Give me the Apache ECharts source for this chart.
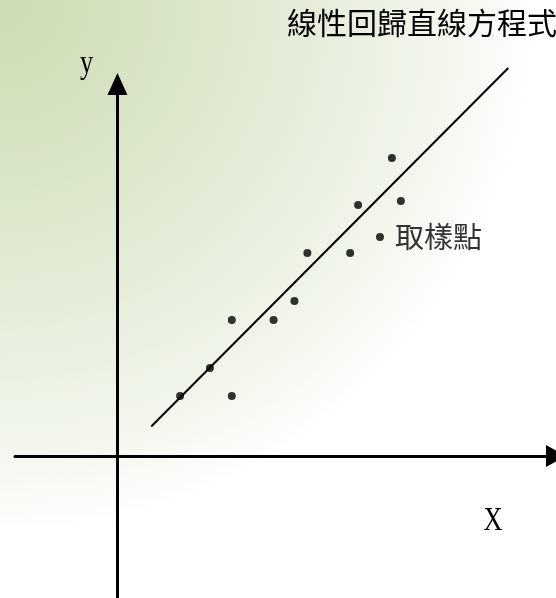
<!DOCTYPE html>
<html>
<head>
<meta charset="utf-8">
<script src="https://cdn.jsdelivr.net/npm/echarts@6/dist/echarts.min.js"></script>
<style>
  html, body { margin: 0; padding: 0; }
  #chart { width: 556px; height: 598px; }
</style>
</head>
<body>
<div id="chart"></div>
<script>
// ---- data (units: arbitrary, origin at the axes' crossing) ----
const sampleX = [27.6, 28.5, 24.2, 26.4, 19.1, 23.4, 17.8, 11.5, 15.7, 9.3, 6.3, 11.5];
const sampleY = [29.8, 25.5, 25.1, 21.9, 20.3, 20.3, 15.5, 13.6, 13.6, 8.8, 6.0, 6.0];
const labeledIndex = 3;
const sampleLabel = '取樣點';
const lineX = [3.4, 39.3];
const lineY = [2.95, 38.8];
const titleText = '線性回歸直線方程式';
const xName = 'X';
const yName = 'y';
const xRange = [-10.3, 44.1];
const yRange = [-14.2, 37.2];

const scatterData = sampleX.map((x, i) => {
  const item = { value: [x, sampleY[i]] };
  if (i === labeledIndex) {
    item.label = {
      show: true, formatter: sampleLabel, position: 'right', distance: 11,
      fontSize: 29, color: '#000', fontFamily: '"Noto Sans CJK TC", sans-serif'
    };
  }
  return item;
});
const lineData = lineX.map((x, i) => [x, lineY[i]]);

const chart = echarts.init(document.getElementById('chart'), null, { renderer: 'canvas' });
chart.setOption({
  animation: false,
  backgroundColor: {
    type: 'radial', x: 0, y: 0, r: 1.05,
    colorStops: [
      { offset: 0, color: '#cddbb2' },
      { offset: 0.3, color: '#d9e5c7' },
      { offset: 0.55, color: '#e6eedb' },
      { offset: 0.78, color: '#f3f7ee' },
      { offset: 0.92, color: '#ffffff' },
      { offset: 1, color: '#ffffff' }
    ]
  },
  title: {
    text: titleText, left: 287, top: 8, padding: 0,
    textStyle: { fontSize: 30, fontWeight: 'normal', color: '#000', fontFamily: '"Noto Sans CJK TC", sans-serif' }
  },
  grid: { left: 15, right: -3, top: 84, bottom: 0, containLabel: false },
  xAxis: {
    type: 'value', min: xRange[0], max: xRange[1],
    axisLine: { show: true, onZero: true, symbol: ['none', 'triangle'], symbolSize: [22, 20], lineStyle: { color: '#000', width: 3 } },
    axisTick: { show: false }, axisLabel: { show: false }, splitLine: { show: false }
  },
  yAxis: {
    type: 'value', min: yRange[0], max: yRange[1],
    axisLine: { show: true, onZero: true, symbol: ['none', 'triangle'], symbolSize: [20, 22], lineStyle: { color: '#000', width: 3 } },
    axisTick: { show: false }, axisLabel: { show: false }, splitLine: { show: false }
  },
  graphic: [
    { type: 'text', x: 86.5, y: 64, scaleX: 0.8, style: { text: yName, fontSize: 33, fontFamily: '"Liberation Serif", serif', fill: '#000', align: 'center', verticalAlign: 'middle' } },
    { type: 'text', x: 493, y: 521, scaleX: 0.8, style: { text: xName, fontSize: 33, fontFamily: '"Liberation Serif", serif', fill: '#000', align: 'center', verticalAlign: 'middle' } }
  ],
  series: [
    {
      type: 'line', data: lineData, symbol: 'none', clip: false,
      lineStyle: { color: '#000', width: 2 }, z: 3
    },
    {
      type: 'scatter', data: scatterData, symbol: 'circle', symbolSize: 8,
      itemStyle: { color: '#000' }, z: 4
    }
  ]
});
</script>
</body>
</html>
